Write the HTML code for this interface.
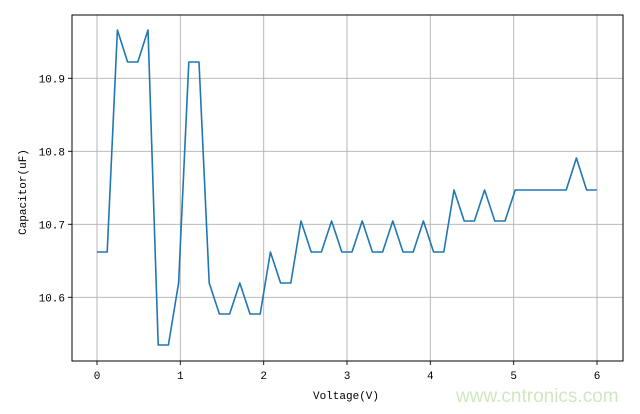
<!DOCTYPE html>
<html><head><meta charset="utf-8"><style>
body{margin:0;background:#fff;}
svg text{font-family:"Liberation Mono","Noto Sans CJK SC",monospace;font-size:11px;fill:#000;}
</style></head><body>
<svg width="640" height="409" xmlns="http://www.w3.org/2000/svg">
<rect width="640" height="409" fill="#fff"/>
<g stroke="#b0b0b0" stroke-width="0.9">
<line x1="97" y1="15" x2="97" y2="361"/>
<line x1="180.3" y1="15" x2="180.3" y2="361"/>
<line x1="263.7" y1="15" x2="263.7" y2="361"/>
<line x1="347" y1="15" x2="347" y2="361"/>
<line x1="430.3" y1="15" x2="430.3" y2="361"/>
<line x1="513.7" y1="15" x2="513.7" y2="361"/>
<line x1="597" y1="15" x2="597" y2="361"/>
<line x1="72" y1="78.3" x2="623" y2="78.3"/>
<line x1="72" y1="151.3" x2="623" y2="151.3"/>
<line x1="72" y1="224.3" x2="623" y2="224.3"/>
<line x1="72" y1="297.3" x2="623" y2="297.3"/>
</g>
<rect x="72" y="15" width="551" height="346" fill="none" stroke="#000" stroke-width="1"/>
<g stroke="#000" stroke-width="0.9">
<line x1="97" y1="361" x2="97" y2="365"/>
<line x1="180.3" y1="361" x2="180.3" y2="365"/>
<line x1="263.7" y1="361" x2="263.7" y2="365"/>
<line x1="347" y1="361" x2="347" y2="365"/>
<line x1="430.3" y1="361" x2="430.3" y2="365"/>
<line x1="513.7" y1="361" x2="513.7" y2="365"/>
<line x1="597" y1="361" x2="597" y2="365"/>
<line x1="68" y1="78.3" x2="72" y2="78.3"/>
<line x1="68" y1="151.3" x2="72" y2="151.3"/>
<line x1="68" y1="224.3" x2="72" y2="224.3"/>
<line x1="68" y1="297.3" x2="72" y2="297.3"/>
</g>
<g text-anchor="middle">
<text x="97" y="379">0</text><text x="180.3" y="379">1</text><text x="263.7" y="379">2</text>
<text x="347" y="379">3</text><text x="430.3" y="379">4</text><text x="513.7" y="379">5</text><text x="597" y="379">6</text>
<text x="346" y="399">Voltage(V)</text>
</g>
<g text-anchor="end">
<text x="65" y="82.3">10.9</text><text x="65" y="155.3">10.8</text><text x="65" y="228.3">10.7</text><text x="65" y="301.3">10.6</text>
</g>
<text transform="translate(26,192) rotate(-90)" text-anchor="middle">Capacitor(uF)</text>
<polyline fill="none" stroke="#1f77b4" stroke-width="1.6" stroke-linejoin="round" points="
97,252 107.2,252 117.4,30 127.6,62 137.8,62 148,30 158.2,345 168.4,345 178.6,283 188.8,62 199,62 209.2,283 219.4,314 229.6,314 239.8,283 250,314 260.2,314 270.4,252 280.6,283 290.8,283 301,221 311.2,252 321.4,252 331.6,221 341.8,252 352,252 362.2,221 372.4,252 382.6,252 392.8,221 403,252 413.2,252 423.4,221 433.6,252 443.8,252 454,190 464.2,221 474.4,221 484.6,190 494.8,221 505,221 515.2,190 525.4,190 535.6,190 545.8,190 556,190 566.2,190 576.4,158 586.6,190 596.8,190"/>
<text x="456" y="402" style="font-family:'Liberation Sans',sans-serif;font-size:19px;fill:#cfe8c0;">www.cntronics.com</text>
</svg>
</body></html>
